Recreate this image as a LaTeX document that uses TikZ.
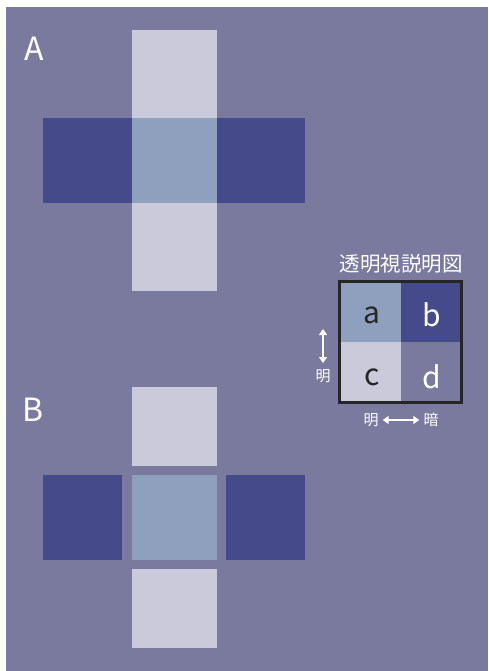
\documentclass[tikz,border=0pt]{standalone}
\usepackage{fontspec}
\setmainfont{Noto Sans CJK JP}
\usetikzlibrary{arrows.meta}
\definecolor{bgc}{RGB}{122,122,158}
\definecolor{lightc}{RGB}{202,202,219}
\definecolor{darkc}{RGB}{69,75,138}
\definecolor{midc}{RGB}{143,160,190}
\tikzset{
  cell/.style={inner sep=0pt, outer sep=0pt},
  biglabel/.style={text=white, font=\fontsize{32}{32}\selectfont, inner sep=0pt},
  letter/.style={font=\fontsize{30}{30}\selectfont, inner sep=0pt},
  small/.style={text=white, font=\fontsize{15}{15}\selectfont, inner sep=0pt},
  dblarrow/.style={white, line width=1.5pt, {Triangle[length=6pt,width=8pt]}-{Triangle[length=6pt,width=8pt]}}
}
\begin{document}
\begin{tikzpicture}[x=1pt,y=-1pt]
\useasboundingbox (0,0) rectangle (488,671);
\fill[bgc] (6,7) rectangle (488,671);
% A
\fill[lightc] (132,30) rectangle (217,291);
\fill[darkc] (43,118) rectangle (305,203);
\fill[midc] (132,118) rectangle (217,203);
\node[biglabel] (labA) at (34,49) {A};
% B
\fill[lightc] (132,387) rectangle (217,466);
\fill[darkc] (43,475) rectangle (122,560);
\fill[midc] (132,475) rectangle (217,560);
\fill[darkc] (226,475) rectangle (305,560);
\fill[lightc] (132,569) rectangle (217,648);
\node[biglabel] (labB) at (33,410) {B};
% legend
\node[text=white, font=\fontsize{20.5}{20.5}\selectfont, inner sep=0pt] (title) at (401,264) {透明視説明図};
\fill[midc] (339.5,281.5) rectangle (401,342);
\fill[darkc] (401,281.5) rectangle (461.5,342);
\fill[lightc] (339.5,342) rectangle (401,402.5);
\fill[bgc] (401,342) rectangle (461.5,402.5);
\draw[black!85, line width=3pt] (339.5,281.5) rectangle (461.5,402.5);
\node[letter, text=black!85] (la) at (372,315) {a};
\node[letter, text=white] (lb) at (432,315) {b};
\node[letter, text=black!85] (lc) at (372,377) {c};
\node[letter, text=white] (ld) at (432,377) {d};
\coordinate (vt) at (323,329);
\coordinate (vb) at (323,363);
\draw[dblarrow] (vt) -- (vb);
\node[small] (vm) at (323,376) {明};
\node[small] (hm) at (371,420) {明};
\node[small] (ha) at (431,420) {暗};
\draw[dblarrow] ([xshift=4pt]hm.east) -- ([xshift=-4pt]ha.west);
\end{tikzpicture}
\end{document}
